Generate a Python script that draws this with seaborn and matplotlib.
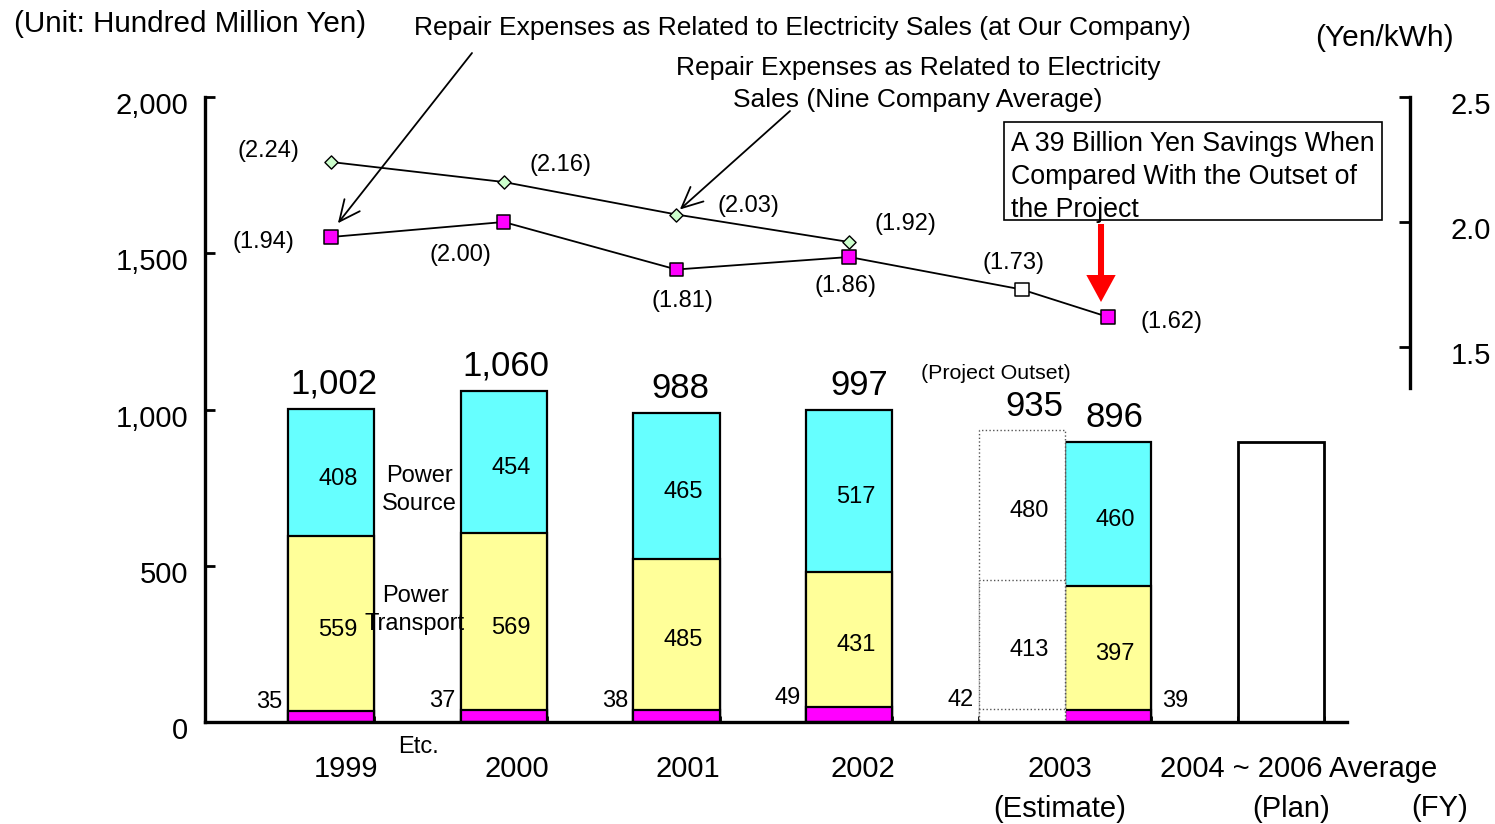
import numpy as np
import matplotlib
matplotlib.use("Agg")
import matplotlib.pyplot as plt
import matplotlib.transforms as mtransforms
from matplotlib.patches import Rectangle
import seaborn as sns

# ---------------- data ----------------
actual_years = ["1999", "2000", "2001", "2002", "2003"]
etc_vals = [35, 37, 38, 49, 39]
transport_vals = [559, 569, 485, 431, 397]
source_vals = [408, 454, 465, 517, 460]
total_vals = [1002, 1060, 988, 997, 896]

outset_etc = [42]
outset_transport = [413]
outset_source = [480]
outset_total = [935]

plan_total = [896]

our_rate = [1.94, 2.00, 1.81, 1.86, 1.73, 1.62]
our_rate_kind = ["actual", "actual", "actual", "actual", "estimate", "actual"]
nine_rate = [2.24, 2.16, 2.03, 1.92]

category_labels = ["1999", "2000", "2001", "2002", "2003", "2004 ~ 2006 Average"]
category_sublabels = ["(Estimate)", "(Plan)"]
left_ticks = [0, 500, 1000, 1500, 2000]
left_ticklabels = ["0", "500", "1,000", "1,500", "2,000"]
right_ticks = [1.5, 2.0, 2.5]
right_ticklabels = ["1.5", "2.0", "2.5"]

# ---------------- layout ----------------
actual_pos = np.array([0, 1, 2, 3, 4.5])
outset_pos = np.array([4.0])
plan_pos = np.array([5.5])
our_pos = np.array([0, 1, 2, 3, 4, 4.5])
nine_pos = np.array([0, 1, 2, 3])
cat_pos = [0.087, 1.077, 2.067, 3.08, 4.221, 5.605]
sub_pos = [4.221, 5.56]
BAR_W = 0.5
UNIT = 172.7  # pixels per category step

W, H = 1495, 824
sns.set_theme(style="white")
plt.rcParams["font.family"] = ["Liberation Sans", "DejaVu Sans"]

fig = plt.figure(figsize=(W / 100, H / 100), dpi=100)
ax = fig.add_axes([205 / W, 1 - 722 / H, (1410 - 205) / W, (722 - 97) / H])
ax.set_zorder(1)
ax.patch.set_visible(False)

def fx(px):
    return px / W

def fy(py):
    return 1 - py / H

def bars(x, h, **kw):
    x = np.asarray(x, float)
    u = np.unique(x)
    nw = np.min(np.diff(u)) if len(u) > 1 else 1.0
    sns.barplot(x=x, y=list(h), native_scale=True, orient="x", width=BAR_W / nw,
                errorbar=None, saturation=1, ax=ax, **kw)

etc_a = np.array(etc_vals)
low_a = etc_a + np.array(transport_vals)
top_a = low_a + np.array(source_vals)

CYAN, YELLOW, MAGENTA = "#66FFFF", "#FFFF99", "#FF00FF"
solid = dict(edgecolor="black", linewidth=1.6)
bars(actual_pos, top_a, color=CYAN, **solid)
bars(actual_pos, low_a, color=YELLOW, **solid)
bars(actual_pos, etc_a, color=MAGENTA, **solid)

o_etc = np.array(outset_etc)
o_low = o_etc + np.array(outset_transport)
o_top = o_low + np.array(outset_source)
dotted = dict(color="white", edgecolor="#555555", linewidth=1.0, linestyle=":")
bars(outset_pos, o_top, **dotted)
bars(outset_pos, o_low, **dotted)
bars(outset_pos, o_etc, **dotted)

bars(plan_pos, plan_total, color="white", edgecolor="black", linewidth=2.0)

# axes setup
xmin, xmax = (205 - 331) / UNIT, (1410 - 331) / UNIT
ax.set_xlim(xmin, xmax)
ax.set_ylim(0, 2000)
ax.set_yticks(left_ticks, left_ticklabels)
ax.set_xticks(cat_pos, category_labels)
edges = np.concatenate([actual_pos, outset_pos, plan_pos])
edges = np.sort(np.concatenate([edges - BAR_W / 2, edges + BAR_W / 2]))
ax.set_xticks(edges, minor=True)
ax.tick_params(axis="y", direction="in", length=7, width=2, labelsize=21,
               pad=12, colors="black", left=True)
ax.tick_params(axis="x", which="major", length=0, labelsize=21, pad=24,
               colors="black")
ax.tick_params(axis="x", which="minor", direction="in", length=4, width=2,
               bottom=True, colors="black")
ax.set_xlabel("")
ax.set_ylabel("")
for s in ["top", "right"]:
    ax.spines[s].set_visible(False)
for s in ["left", "bottom"]:
    ax.spines[s].set_color("black")
    ax.spines[s].set_linewidth(2.4)
ax.spines["bottom"].set_bounds(xmin, (1347 - 331) / UNIT)

# second lines of category labels
for p, t in zip(sub_pos, category_sublabels):
    ax.annotate(t, xy=(p, 0), xycoords=("data", "axes fraction"), xytext=(0, -87),
                textcoords="offset pixels", ha="center", va="center",
                fontsize=21, color="black")

# bar value labels
def seg_label(x, y, txt, dx=7, dy=-6, size=17, **kw):
    ax.annotate(txt, xy=(x, y), xytext=(dx, dy), textcoords="offset pixels",
                ha="center", va="center", fontsize=size, color="black", **kw)

tot_dx = [3, 2, 4, 10, 6]
for i, x in enumerate(actual_pos):
    seg_label(x, (low_a[i] + top_a[i]) / 2, str(source_vals[i]))
    seg_label(x, (etc_a[i] + low_a[i]) / 2, str(transport_vals[i]))
    seg_label(x, top_a[i], f"{total_vals[i]:,}", dx=tot_dx[i], dy=25, size=25)
    if i < 4:
        ax.annotate(str(etc_vals[i]), xy=(x - BAR_W / 2, etc_a[i]), xytext=(-5, 9),
                    textcoords="offset pixels", ha="right", va="center",
                    fontsize=17, color="black")
    else:
        ax.annotate(str(etc_vals[i]), xy=(x + BAR_W / 2, etc_a[i]), xytext=(11, 9),
                    textcoords="offset pixels", ha="left", va="center",
                    fontsize=17, color="black")

xo = outset_pos[0]
seg_label(xo, (o_low[0] + o_top[0]) / 2, str(outset_source[0]))
seg_label(xo, (o_etc[0] + o_low[0]) / 2, str(outset_transport[0]))
seg_label(xo, o_top[0], f"{outset_total[0]:,}", dx=13, dy=23, size=25)
seg_label(xo, o_top[0], "(Project Outset)", dx=-26, dy=56, size=15.4)
ax.annotate(str(outset_etc[0]), xy=(xo - BAR_W / 2, o_etc[0]), xytext=(-5, 9),
            textcoords="offset pixels", ha="right", va="center",
            fontsize=17, color="black")

# ---------------- secondary axis: lines ----------------
ax2 = ax.twinx()
ax2.set_zorder(2)
sns.lineplot(x=our_pos, y=our_rate, color="black", linewidth=1.3, ax=ax2,
             sort=False)
sns.lineplot(x=nine_pos, y=nine_rate, color="black", linewidth=1.3, ax=ax2,
             sort=False)
sns.scatterplot(x=our_pos, y=our_rate, hue=our_rate_kind,
                palette={"actual": MAGENTA, "estimate": "white"}, marker="s",
                s=95, edgecolor="black", linewidth=1.1, legend=False, ax=ax2,
                zorder=5)
sns.scatterplot(x=nine_pos, y=nine_rate, color="#CCFFCC", marker="D", s=45,
                edgecolor="black", linewidth=1.0, legend=False, ax=ax2, zorder=5)
ax2.set_ylim(0, 2.5)
ax2.set_xlim(xmin, xmax)
ax2.set_yticks(right_ticks, right_ticklabels)
ax2.tick_params(axis="y", direction="in", length=8, width=2, labelsize=21,
                pad=29, colors="black", right=True)
ax2.set_xlabel("")
ax2.set_ylabel("")
for s in ["top", "left", "bottom"]:
    ax2.spines[s].set_visible(False)
ax2.spines["right"].set_color("black")
ax2.spines["right"].set_linewidth(2.4)
ax2.spines["right"].set_bounds(1.336, 2.5)
ax2.grid(False)
ax.grid(False)

our_off = [(-68, -5), (-43, -33), (6, -31), (-4, -29), (-8, 27), (63, -5)]
nine_off = [(-63, 11), (57, 17), (72, 9), (56, 18)]
for x, v, o in zip(our_pos, our_rate, our_off):
    ax2.annotate(f"({v:.2f})", xy=(x, v), xytext=o, textcoords="offset pixels",
                 ha="center", va="center", fontsize=17, color="black")
for x, v, o in zip(nine_pos, nine_rate, nine_off):
    ax2.annotate(f"({v:.2f})", xy=(x, v), xytext=o, textcoords="offset pixels",
                 ha="center", va="center", fontsize=17, color="black")

# callout arrows
ax2.annotate("", xy=(0.04, 1.995), xytext=(472, H - 53), textcoords="figure pixels",
             arrowprops=dict(arrowstyle="->,head_length=0.75,head_width=0.35",
                             color="black", lw=1.3, mutation_scale=20,
                             shrinkA=0, shrinkB=0))
ax2.annotate("", xy=(2.02, 2.05), xytext=(790, H - 111), textcoords="figure pixels",
             arrowprops=dict(arrowstyle="->,head_length=0.75,head_width=0.35",
                             color="black", lw=1.3, mutation_scale=20,
                             shrinkA=0, shrinkB=0))

# red arrow
ax2.arrow((1101 - 331) / UNIT, 1.992, 0, 1.68 - 1.992, width=0.035, head_width=0.17,
          head_length=0.108, length_includes_head=True, color="#FF0000", lw=0,
          zorder=6)

# callout box
fig.patches.append(Rectangle((fx(1004), fy(220)), (1382 - 1004) / W, (220 - 122) / H,
                             transform=fig.transFigure, facecolor="white",
                             edgecolor="black", linewidth=1.2, zorder=3))
fig.text(fx(1011), fy(177), "A 39 Billion Yen Savings When\nCompared With the Outset of\nthe Project",
         ha="left", va="center", fontsize=19.3, color="black", linespacing=1.37,
         zorder=4)

# ---------------- free texts ----------------
fig.text(fx(14), fy(24), "(Unit: Hundred Million Yen)", ha="left", va="center",
         fontsize=21.3, color="black")
fig.text(fx(1384), fy(38), "(Yen/kWh)", ha="center", va="center", fontsize=21.5,
         color="black")
fig.text(fx(802), fy(28), "Repair Expenses as Related to Electricity Sales (at Our Company)",
         ha="center", va="center", fontsize=19, color="black")
fig.text(fx(918), fy(84), "Repair Expenses as Related to Electricity\nSales (Nine Company Average)",
         ha="center", va="center", fontsize=19, color="black", linespacing=1.37)
fig.text(fx(419), fy(490), "Power\nSource", ha="center", va="center", fontsize=17,
         color="black", linespacing=1.35, zorder=10)
fig.text(fx(415), fy(610), "Power\nTransport", ha="center", va="center", fontsize=17,
         color="black", linespacing=1.35, zorder=10)
fig.text(fx(419), fy(747), "Etc.", ha="center", va="center", fontsize=17,
         color="black")
fig.text(fx(1440), fy(808), "(FY)", ha="center", va="center", fontsize=21,
         color="black")

# shift y tick labels slightly down (as in reference)
off = mtransforms.ScaledTranslation(0, -6 / 100, fig.dpi_scale_trans)
for t in ax.yaxis.get_major_ticks():
    t.label1.set_transform(t.label1.get_transform() + off)
for t in ax2.yaxis.get_major_ticks():
    t.label2.set_transform(t.label2.get_transform() + off)

fig.savefig("out.png", dpi=100, facecolor="white")
